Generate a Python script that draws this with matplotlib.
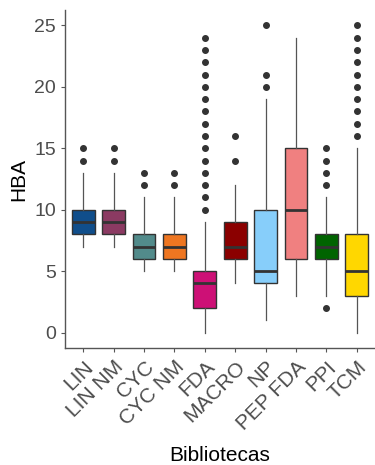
import matplotlib.pyplot as plt
import numpy as np

plt.rcParams['font.family'] = ['Liberation Sans', 'DejaVu Sans']

bibliotecas = ["LIN", "LIN NM", "CYC", "CYC NM", "FDA", "MACRO", "NP", "PEP FDA", "PPI", "TCM"]
cores = ["#104E8B", "#8B3A62", "#528B8B", "#EE7621", "#CD1076",
         "#8B0000", "#87CEFA", "#F08080", "#006400", "#FFD700"]

# resumo de cada caixa (HBA)
whislo = [7, 7, 5, 5, 0, 4, 1, 3, 3, 0]
q1 = [8, 8, 6, 6, 2, 6, 4, 6, 6, 3]
med = [9, 9, 7, 7, 4, 7, 5, 10, 7, 5]
q3 = [10, 10, 8, 8, 5, 9, 10, 15, 8, 8]
whishi = [13, 13, 11, 11, 9, 12, 19, 24, 11, 15]
outliers = [
    [14, 15],
    [14, 15],
    [12, 13],
    [12, 13],
    list(range(10, 25)),
    [14, 16],
    [20, 21, 25],
    [],
    [2, 12, 13, 14, 15],
    list(range(16, 26)),
]

stats = []
for i in range(len(bibliotecas)):
    stats.append(dict(label=bibliotecas[i], whislo=whislo[i], q1=q1[i], med=med[i],
                      q3=q3[i], whishi=whishi[i], fliers=outliers[i]))

fig = plt.figure(figsize=(3.75, 4.65), dpi=100)
ax = fig.add_axes([0.1733, 0.2516, 0.8267, 0.7269])

bp = ax.bxp(stats, positions=np.arange(1, 11), widths=0.75, patch_artist=True,
            showcaps=False,
            boxprops=dict(edgecolor="#333333", linewidth=1.0),
            medianprops=dict(color="#333333", linewidth=2.0),
            whiskerprops=dict(color="#555555", linewidth=0.9),
            flierprops=dict(marker="o", markersize=4, markerfacecolor="#333333",
                            markeredgecolor="#333333"))
for caixa, c in zip(bp["boxes"], cores):
    caixa.set_facecolor(c)

ax.set_xlim(0.4, 10.6)
ax.set_ylim(-1.25, 26.25)
ax.set_yticks([0, 5, 10, 15, 20, 25])
ax.set_xticks(np.arange(1, 11))
ax.set_xticklabels(bibliotecas, rotation=45, ha="right", rotation_mode="anchor")
ax.tick_params(axis="both", colors="#555555", labelcolor="#4D4D4D", length=3, width=0.8)
ax.tick_params(axis="y", labelsize=14)
ax.tick_params(axis="x", labelsize=15)

for s in ["top", "right"]:
    ax.spines[s].set_visible(False)
for s in ["left", "bottom"]:
    ax.spines[s].set_color("#555555")
    ax.spines[s].set_linewidth(1.0)

ax.set_xlabel("Bibliotecas", fontsize=15, color="black", labelpad=9)
ax.set_ylabel("HBA", fontsize=15, color="black", labelpad=4)

fig.savefig("out.png", dpi=100)
